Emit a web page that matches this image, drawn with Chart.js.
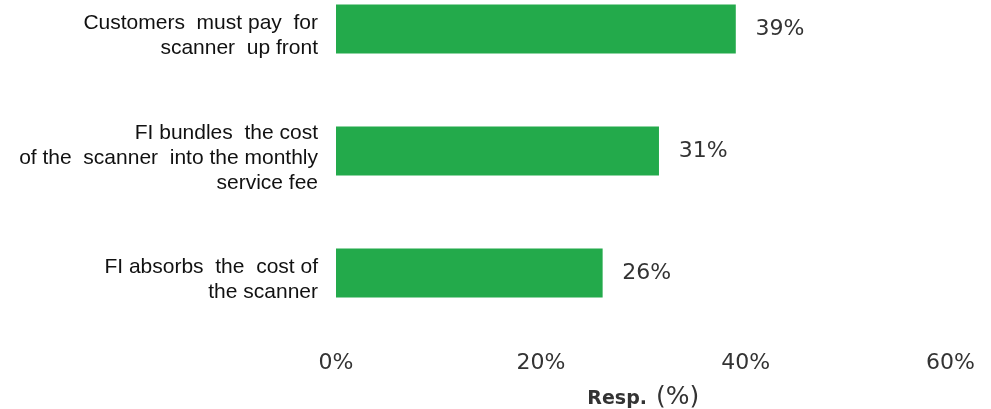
<!DOCTYPE html>
<html><head><meta charset="utf-8">
<title>Resp. chart</title>
<script src="https://cdn.jsdelivr.net/npm/chart.js@4"></script>
<style>
body{margin:0;background:#fff;overflow:hidden;}
#wrap{position:absolute;left:0;top:-32px;width:991px;height:441px;}
</style></head><body>
<div id="wrap"><canvas id="c"></canvas></div>
<script>
var categories = [
    ["Customers  must pay  for", "scanner  up front"],
    ["FI bundles  the cost", "of the  scanner  into the monthly", "service fee"],
    ["FI absorbs  the  cost of", "the scanner"]
];
var respValues = [39, 31.5, 26];
var valueText = ["39%", "31%", "26%"];
var xTicks = [0, 20, 40, 60];
var titleBold = "Resp.";
var titleRest = "(%)";

var valueLabels = {
    id: 'valueLabels',
    afterDatasetsDraw: function(chart) {
        var ctx = chart.ctx;
        var meta = chart.getDatasetMeta(0);
        ctx.save();
        ctx.font = '22px "DejaVu Sans"';
        ctx.fillStyle = '#333';
        ctx.textBaseline = 'middle';
        ctx.textAlign = 'left';
        meta.data.forEach(function(bar, i) {
            ctx.fillText(valueText[i], bar.x + 20, bar.y);
        });
        ctx.restore();
    }
};

// x axis title, "Resp." bold and "(%)" normal
var axisTitle = {
    id: 'axisTitle',
    afterDraw: function(chart) {
        var ctx = chart.ctx, a = chart.chartArea;
        ctx.save();
        ctx.fillStyle = '#333';
        ctx.textBaseline = 'alphabetic';
        ctx.textAlign = 'left';
        ctx.font = 'bold 19px "DejaVu Sans"';
        var w1 = ctx.measureText(titleBold).width;
        ctx.font = '25px "DejaVu Sans"';
        var w2 = ctx.measureText(titleRest).width;
        var gap = 9;
        var x = (a.left + a.right) / 2 - (w1 + gap + w2) / 2;
        var y = a.bottom + 69.5;
        ctx.font = 'bold 19px "DejaVu Sans"';
        ctx.fillText(titleBold, x, y);
        ctx.font = '25px "DejaVu Sans"';
        ctx.fillText(titleRest, x + w1 + gap, y);
        ctx.restore();
    }
};

new Chart(document.getElementById('c'), {
    type: 'bar',
    data: {
        labels: categories,
        datasets: [{ data: respValues, backgroundColor: '#23aa4b', borderWidth: 0, barThickness: 48.5 }]
    },
    options: {
        indexAxis: 'y',
        responsive: true,
        maintainAspectRatio: false,
        animation: false,
        layout: { padding: { top: 0, right: 36, bottom: 0, left: 0 } },
        plugins: { legend: { display: false }, tooltip: { enabled: false } },
        scales: {
            x: {
                min: 0, max: 60,
                afterBuildTicks: function(s) { s.ticks = xTicks.map(function(v) { return { value: v }; }); },
                grid: { display: false, drawTicks: false },
                border: { display: false },
                ticks: { padding: 16, color: '#333', font: { family: 'DejaVu Sans', size: 22 }, callback: function(v) { return v + '%'; } },
                afterFit: function(s) { s.height = 75; }
            },
            y: {
                grid: { display: false, drawTicks: false },
                border: { display: false },
                ticks: { padding: 18, labelOffset: 7, color: '#111', font: { family: 'Liberation Sans', size: 21, lineHeight: 1.2 } },
                afterFit: function(s) { s.width = 336; s.paddingTop = 0; s.paddingBottom = 0; }
            }
        }
    },
    plugins: [valueLabels, axisTitle]
});
</script>
</body></html>
